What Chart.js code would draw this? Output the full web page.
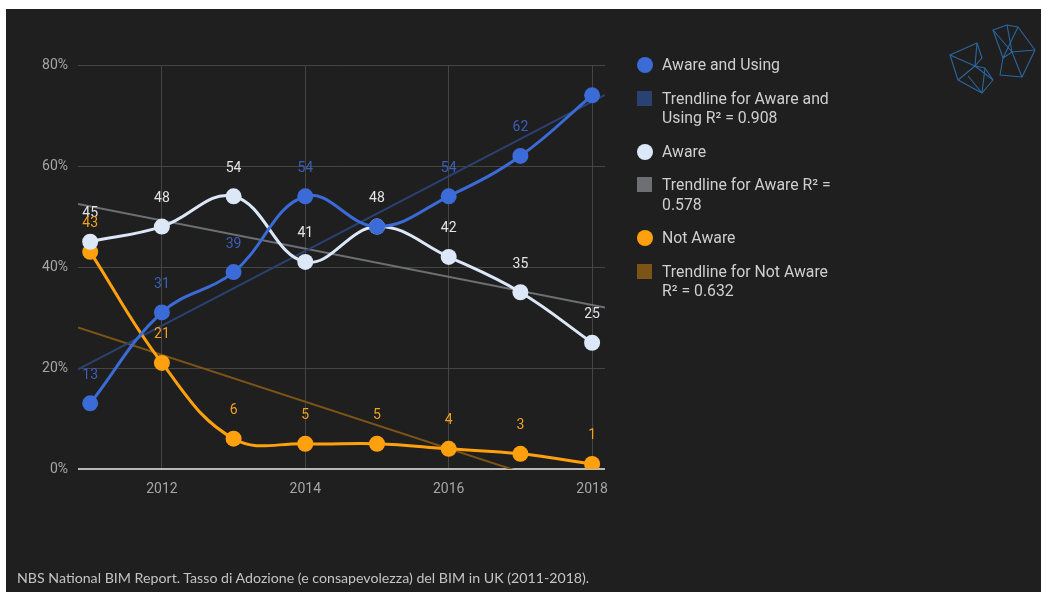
<!DOCTYPE html>
<html>
<head>
<meta charset="utf-8">
<script src="https://cdn.jsdelivr.net/npm/chart.js@4.4.1/dist/chart.umd.min.js"></script>
<style>
  html, body { margin: 0; padding: 0; background: #fff; }
  #wrap { position: relative; width: 1041px; height: 592px; overflow: hidden; }
  #panel { position: absolute; left: 6px; top: 9px; right: 0; bottom: 0; background: #1f1f1f; }
  #chart { position: absolute; left: 0; top: 0; }
  #legend { position: absolute; left: 637px; top: 55px; font: 15.8px Roboto, sans-serif; color: #cfcfcf; }
  .item { display: flex; align-items: flex-start; margin-bottom: 14px; }
  .mark { width: 16px; height: 16px; margin-top: 2px; margin-right: 9px; flex: none; }
  .txt { width: 176px; line-height: 19.5px; }
  #source { position: absolute; left: 17px; top: 569px; font: 14.2px Lato, sans-serif; color: #c4c4c4; }
  #logo { position: absolute; left: 940px; top: 15px; }
</style>
</head>
<body>
<div id="wrap">
  <div id="panel"></div>
  <canvas id="chart" width="1041" height="592"></canvas>
  <div id="legend"></div>
  <svg id="logo" width="100" height="90" viewBox="940 15 100 90" fill="none" stroke="#2c66a0" stroke-width="1.1" stroke-linejoin="round">
    <polygon points="950,55 977,43 982,58 975,66 985,68 993,80 982,93 958,80" />
    <polyline points="950,55 975,66 958,80" />
    <polyline points="977,43 975,66 993,80" />
    <polyline points="968,76 982,93 985,68" />
    <polygon points="993,30 1007,25 1018,27 1035,50 1022,77 1000,75 1003,58" />
    <polyline points="993,30 1012,52 1022,77" />
    <polyline points="1007,25 1012,52 1035,50" />
    <polyline points="1018,27 1003,58 1012,52" />
  </svg>
  <div id="source">NBS National BIM Report. Tasso di Adozione (e consapevolezza) del BIM in UK (2011-2018).</div>
</div>
<script>
const years = [2011, 2012, 2013, 2014, 2015, 2016, 2017, 2018];
const awareUsing = [13, 31, 39, 54, 48, 54, 62, 74];
const aware = [45, 48, 54, 41, 48, 42, 35, 25];
const notAware = [43, 21, 6, 5, 5, 4, 3, 1];
const seriesNames = ['Aware and Using', 'Aware', 'Not Aware'];
const rSquared = ['0.908', '0.578', '0.632'];
const xTicks = [2012, 2014, 2016, 2018];
const yTicks = [0, 20, 40, 60, 80];

// labels left out where they would collide with others
const hiddenLabels = [[4, 7], [], []];

const pointColors = ['#3a6bd6', '#dce8f7', '#ffa10f'];
const labelColors = ['#3b5fb8', '#e4e4e4', '#f0a020'];
const trendColors = ['#2a4272', '#6d6f73', '#7c5418'];

const xMin = 2010.83, xMax = 2018.18;

// least squares line through a series
function trend(ys) {
  const n = years.length;
  const mx = years.reduce((a, b) => a + b, 0) / n;
  const my = ys.reduce((a, b) => a + b, 0) / n;
  let sxy = 0, sxx = 0;
  years.forEach((x, i) => { sxy += (x - mx) * (ys[i] - my); sxx += (x - mx) * (x - mx); });
  const slope = sxy / sxx;
  const f = x => my + slope * (x - mx);
  return [{ x: xMin, y: f(xMin) }, { x: xMax, y: f(xMax) }];
}

const series = [awareUsing, aware, notAware];
const datasets = [];
series.forEach((vals, s) => {
  datasets.push({
    label: seriesNames[s],
    data: vals.map((v, i) => ({ x: years[i], y: v })),
    borderColor: pointColors[s],
    backgroundColor: pointColors[s],
    pointBackgroundColor: pointColors[s],
    pointBorderWidth: 0,
    pointRadius: 8,
    borderWidth: 3,
    tension: 0.4,
    order: 1,
    isSeries: true
  });
  datasets.push({
    label: 'Trendline for ' + seriesNames[s] + ' R² = ' + rSquared[s],
    data: trend(vals),
    borderColor: trendColors[s],
    backgroundColor: trendColors[s],
    borderWidth: 2,
    pointRadius: 0,
    order: 2
  });
});

const valueLabels = {
  id: 'valueLabels',
  afterDatasetsDraw(chart) {
    const ctx = chart.ctx;
    ctx.save();
    ctx.font = '14px Roboto, sans-serif';
    ctx.textAlign = 'center';
    ctx.textBaseline = 'middle';
    [1, 0, 2].forEach(s => {
      const meta = chart.getDatasetMeta(s * 2);
      ctx.fillStyle = labelColors[s];
      meta.data.forEach((pt, i) => {
        if (hiddenLabels[s].includes(i)) return;
        ctx.fillText(String(series[s][i]), pt.x, pt.y - 28);
      });
    });
    ctx.restore();
  }
};

const chart = new Chart(document.getElementById('chart'), {
  type: 'line',
  data: { datasets: datasets },
  options: {
    responsive: false,
    animation: false,
    devicePixelRatio: 1,
    layout: { padding: { left: 0, top: 65, right: 436, bottom: 0 } },
    plugins: { legend: { display: false }, tooltip: { enabled: false } },
    scales: {
      x: {
        type: 'linear',
        min: xMin,
        max: xMax,
        afterBuildTicks: scale => { scale.ticks = xTicks.map(v => ({ value: v })); },
        afterFit: scale => { scale.height = 123; },
        grid: { color: '#454545', lineWidth: 1, drawTicks: false },
        border: { display: false },
        ticks: { color: '#a6a6a6', font: { family: 'Roboto', size: 14 }, padding: 12, callback: v => String(v) }
      },
      y: {
        min: 0,
        max: 80,
        afterBuildTicks: scale => { scale.ticks = yTicks.map(v => ({ value: v })); },
        afterFit: scale => { scale.width = 78; },
        grid: {
          color: c => c.tick && c.tick.value === 0 ? '#b8b8b8' : '#454545',
          lineWidth: c => c.tick && c.tick.value === 0 ? 2 : 1,
          drawTicks: false
        },
        border: { display: false },
        ticks: { color: '#a6a6a6', font: { family: 'Roboto', size: 14 }, padding: 10, callback: v => v + '%' }
      }
    }
  },
  plugins: [valueLabels]
});

// legend built from the datasets
const legend = document.getElementById('legend');
chart.data.datasets.forEach(ds => {
  const item = document.createElement('div');
  item.className = 'item';
  const mark = document.createElement('div');
  mark.className = 'mark';
  mark.style.background = ds.backgroundColor;
  if (ds.isSeries) mark.style.borderRadius = '50%';
  else { mark.style.width = '15px'; mark.style.height = '15px'; mark.style.marginRight = '10px'; }
  const txt = document.createElement('div');
  txt.className = 'txt';
  txt.textContent = ds.label;
  item.appendChild(mark);
  item.appendChild(txt);
  legend.appendChild(item);
});
</script>
</body>
</html>
